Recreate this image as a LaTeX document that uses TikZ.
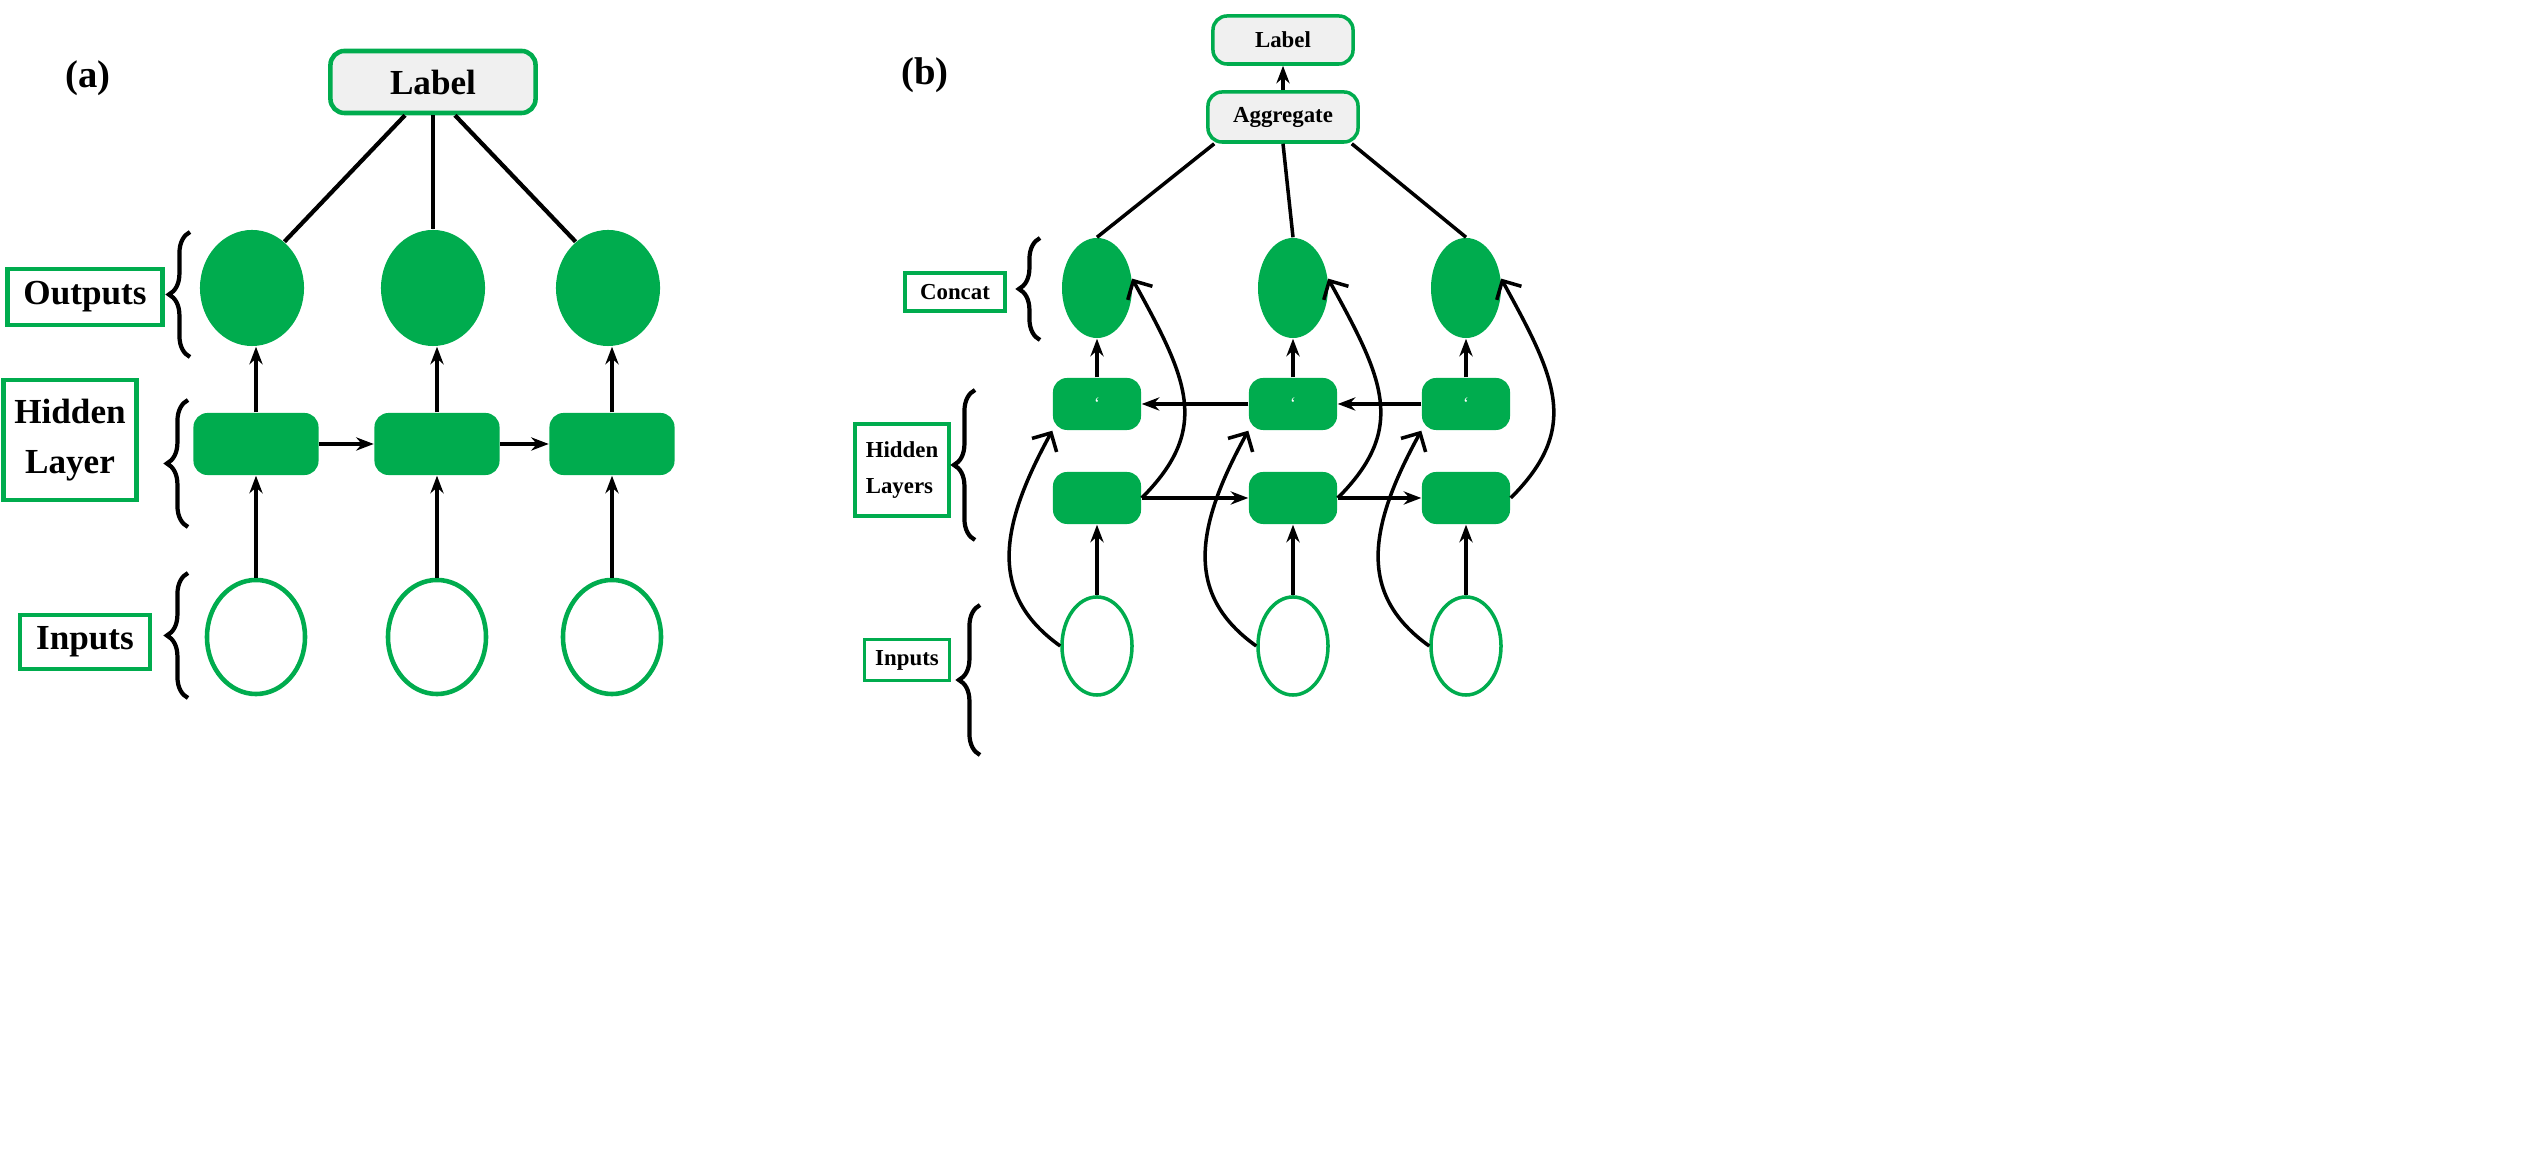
\documentclass[tikz,border=0pt]{standalone}
\usepackage{fontspec}
\setmainfont{Liberation Serif}
\usetikzlibrary{positioning, shapes.geometric, arrows.meta, decorations.pathreplacing}
\definecolor{leaf}{HTML}{00AC4E}
\begin{document}
\begin{tikzpicture}[x=0.01cm, y=-0.01cm,
    tag/.style={draw=leaf, line width=1.3pt, fill=white, align=center, font=\bfseries\fontsize{10}{14}\selectfont, inner sep=3pt},
    tagb/.style={tag, line width=1pt, font=\bfseries\fontsize{6.5}{10}\selectfont},
    top/.style={draw=leaf, line width=1.3pt, fill=gray!12, rounded corners=4pt, font=\bfseries\fontsize{10}{12}\selectfont},
    topb/.style={top, line width=1pt, font=\bfseries\fontsize{6.5}{8}\selectfont},
    outnode/.style={ellipse, fill=leaf, inner sep=0pt},
    innode/.style={ellipse, draw=leaf, line width=1.3pt, fill=white, inner sep=0pt},
    cell/.style={rectangle, rounded corners=4pt, fill=leaf, inner sep=0pt},
    link/.style={line width=1.2pt},
    flow/.style={-{Stealth[length=5pt]}, line width=1.2pt},
    loop/.style={-{Straight Barb[length=4pt]}, line width=1pt},
    brace/.style={decorate, decoration={brace, amplitude=6pt}, line width=1.2pt}
]
\useasboundingbox (0,0) rectangle (2548,1168);

% Panel (a)
\node[font=\bfseries\fontsize{11}{12}\selectfont] (capa) at (88,78) {(a)};
\node[top, minimum width=2.05cm, minimum height=0.62cm] (labela) at (433,82) {Label};

\foreach \i/\x in {1/252, 2/433, 3/608} {
  \node[outnode, minimum width=1.04cm, minimum height=1.16cm] (oa\i) at (\x,288) {};
  \node[cell, minimum width=1.25cm, minimum height=0.62cm] (ha\i) at (\x+4,444) {};
  \node[innode, minimum width=0.98cm, minimum height=1.14cm] (ia\i) at (\x+4,637) {};
  \draw[flow] (ia\i) -- (ha\i);
  \draw[flow] (ha\i) -- (ha\i |- oa\i.south);
}
\draw[flow] (ha1) -- (ha2);
\draw[flow] (ha2) -- (ha3);
\path (labela.south) ++(-28,0) coordinate (la1) (labela.south) ++(22,0) coordinate (la3);
\draw[link] (la1) -- (oa1.55);
\draw[link] (labela.south) -- (oa2.north);
\draw[link] (la3) -- (oa3.125);

\node[tag, minimum width=1.55cm, minimum height=0.56cm] (outa) at (85,297) {Outputs};
\node[tag, minimum width=1.1cm, minimum height=1.2cm] (hida) at (70,440) {Hidden\\Layer};
\node[tag, minimum width=1.3cm, minimum height=0.54cm] (ina) at (85,642) {Inputs};
\draw[brace] (190,357) -- (190,232);
\draw[brace] (188,527) -- (188,400);
\draw[brace] (188,698) -- (188,573);

% Panel (b)
\node[font=\bfseries\fontsize{11}{12}\selectfont] (capb) at (925,75) {(b)};
\node[topb, minimum width=1.4cm, minimum height=0.48cm] (labelb) at (1283,40) {Label};
\node[topb, minimum width=1.5cm, minimum height=0.5cm] (aggr) at (1283,117) {Aggregate};
\draw[flow, line width=1pt] (aggr) -- (labelb);

\foreach \i/\x in {1/1097, 2/1293, 3/1466} {
  \node[outnode, minimum width=0.7cm, minimum height=1cm] (ob\i) at (\x,288) {};
  \node[cell, minimum width=0.88cm, minimum height=0.52cm, font=\tiny, text=white] (ub\i) at (\x,404) {`};
  \node[cell, minimum width=0.88cm, minimum height=0.52cm] (lb\i) at (\x,498) {};
  \node[innode, line width=1pt, minimum width=0.7cm, minimum height=0.98cm] (ib\i) at (\x,646) {};
  \draw[flow, line width=1pt] (ib\i) -- (lb\i);
  \draw[flow, line width=1pt] (ub\i) -- (ob\i);
  \draw[loop] (ib\i.west) .. controls +(-70,-50) and +(-55,100) .. (ub\i.south west);
  \draw[loop] (lb\i.east) .. controls +(70,-70) and +(55,100) .. (ob\i.15);
}
\draw[flow, line width=1pt] (ub2) -- (ub1);
\draw[flow, line width=1pt] (ub3) -- (ub2);
\draw[flow, line width=1pt] (lb1) -- (lb2);
\draw[flow, line width=1pt] (lb2) -- (lb3);
\path (aggr.south west) ++(8,0) coordinate (ag1) (aggr.south east) ++(-8,0) coordinate (ag3);
\draw[link, line width=1pt] (ag1) -- (ob1.north);
\draw[link, line width=1pt] (aggr.south) -- (ob2.north);
\draw[link, line width=1pt] (ag3) -- (ob3.north);

\node[tagb, minimum width=1cm, minimum height=0.38cm] (concat) at (955,292) {Concat};
\node[tagb, minimum width=0.7cm, minimum height=0.92cm, align=left] (hidb) at (902,470) {Hidden\\Layers};
\node[tagb, minimum width=0.82cm, minimum height=0.4cm] (inb) at (907,660) {Inputs};
\draw[brace] (1040,340) -- (1040,238);
\draw[brace] (975,540) -- (975,390);
\draw[brace] (980,755) -- (980,605);
\end{tikzpicture}
\end{document}
